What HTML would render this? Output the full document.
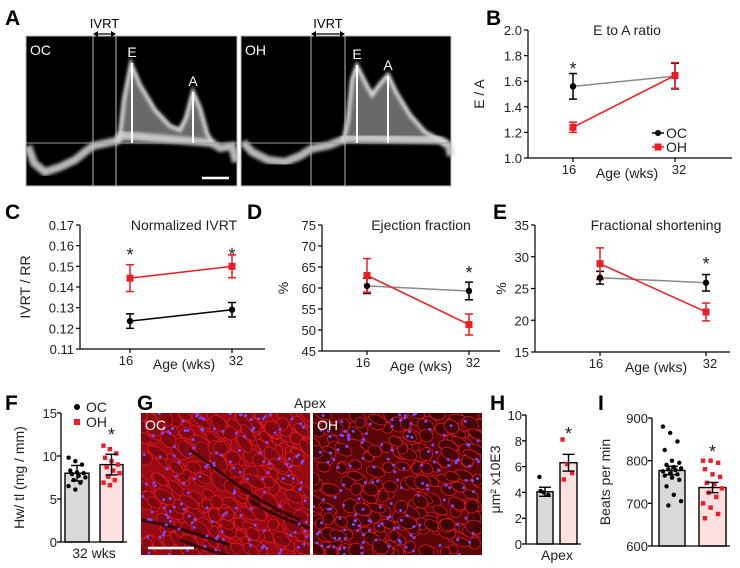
<!DOCTYPE html>
<html><head><meta charset="utf-8"><style>
html,body{margin:0;padding:0;background:#fff;}
svg{display:block;font-family:"Liberation Sans",sans-serif;}
</style></head><body>
<svg id="fig" width="740" height="568" viewBox="0 0 740 568" xmlns="http://www.w3.org/2000/svg">
<defs>
<filter id="blur1" x="-10%" y="-10%" width="120%" height="120%"><feGaussianBlur stdDeviation="1.6"/></filter>
</defs>
<g id="panelA"></g>
<g id="charts"></g>
</svg>
<script>
// ---------- data ----------
const bCats=[16,32];
const bOcMean=[1.56,1.64], bOcErr=[0.1,0.1];
const bOhMean=[1.24,1.645], bOhErr=[0.04,0.1];
const bTicks=[1.0,1.2,1.4,1.6,1.8,2.0];
const cOcMean=[0.1235,0.129], cOcErr=[0.0035,0.0035];
const cOhMean=[0.1443,0.150], cOhErr=[0.0065,0.0055];
const cTicks=[0.11,0.12,0.13,0.14,0.15,0.16,0.17];
const dOcMean=[60.5,59.3], dOcErr=[1.8,2.1];
const dOhMean=[63.0,51.3], dOhErr=[4.0,2.5];
const dTicks=[45,50,55,60,65,70,75];
const eOcMean=[26.7,25.9], eOcErr=[1.0,1.3];
const eOhMean=[28.9,21.3], eOhErr=[2.5,1.4];
const eTicks=[15,20,25,30,35];
const fTicks=[0,5,10,15];
const fMeans=[8.0,9.0], fErrs=[0.9,1.2];
const fOcPts=[9.8,9.4,9.0,8.3,8.1,8.0,7.9,7.7,7.5,7.2,6.9,6.5,6.1];
const fOhPts=[11.2,10.8,10.3,9.8,9.4,9.0,8.7,8.3,8.0,7.6,7.2,6.9,6.6];
const hTicks=[0,2,4,6,8,10];
const hMeans=[4.05,6.3], hErrs=[0.35,0.65];
const hOcPts=[5.2,4.0,3.8,4.1];
const hOhPts=[8.1,6.2,5.5,5.0];
const iTicks=[600,700,800,900];
const iMeans=[777,737], iErrs=[10,12];
const iOcPts=[880,865,845,825,800,795,790,785,782,780,778,775,770,768,765,760,755,740,720,705,695];
const iOhPts=[800,800,795,780,768,762,748,745,735,725,715,700,690,675,665];

const NS="http://www.w3.org/2000/svg";
const svg=document.getElementById('fig');
const RED="#ee1c25";
function el(tag,attrs,parent,txt){const e=document.createElementNS(NS,tag);for(const k in attrs)e.setAttribute(k,attrs[k]);if(txt!==undefined)e.textContent=txt;(parent||svg).appendChild(e);return e;}

const letters=[["A",5,25],["B",486,25],["C",5,219],["D",247,219],["E",493,219],["F",5,410],["G",137,410],["H",490,410],["I",598,410]];
for(const [t,x,y] of letters){const e=el('text',{x:x,y:y,'font-size':21,'font-weight':'bold',fill:'#000'},svg,t);

}

// ---------- Panel A ----------
const pa=document.getElementById('panelA');
function doppler(x0,x1,l1,l2,ex,ey,ax,ay,trace,bottomPts,label,ivx1,ivx2){
  const g=el('g',{},pa);
  
  
  el('rect',{x:x0,y:36,width:x1-x0,height:150,fill:'#000'},g);
  el('path',{d:'M'+trace.map(p=>p.join(',')).join(' L')+' Z',fill:'#8d8d8d',opacity:0.75,filter:'url(#blur1)'},g);
  el('path',{d:'M'+trace.map(p=>p.join(',')).join(' L'),fill:'none',stroke:'#f2f2f2','stroke-width':4,opacity:0.9,filter:'url(#blur1)'},g);
  el('path',{d:'M'+bottomPts.map(p=>p.join(',')).join(' L'),fill:'none',stroke:'#d8d8d8','stroke-width':8,opacity:0.85,filter:'url(#blur1)'},g);
  el('line',{x1:x0,y1:143,x2:x1,y2:143,stroke:'#9a9a9a','stroke-width':1},g);
  el('line',{x1:l1,y1:36,x2:l1,y2:186,stroke:'#bdbdbd','stroke-width':1},g);
  el('line',{x1:l2,y1:36,x2:l2,y2:186,stroke:'#bdbdbd','stroke-width':1},g);
  el('rect',{x:x0,y:36,width:x1-x0,height:150,fill:'none',stroke:'#bbb','stroke-width':1},g);
  el('line',{x1:ex,y1:ey,x2:ex,y2:143,stroke:'#fff','stroke-width':2},g);
  el('line',{x1:ax,y1:ay,x2:ax,y2:143,stroke:'#fff','stroke-width':2},g);
  el('text',{x:ex,y:ey-6,'text-anchor':'middle','font-size':14,fill:'#fff'},g,'E');
  el('text',{x:ax,y:ay-6,'text-anchor':'middle','font-size':14,fill:'#fff'},g,'A');
  el('text',{x:x0+4,y:55,'font-size':14,fill:'#fff'},g,label);
  el('text',{x:(ivx1+ivx2)/2,y:28,'text-anchor':'middle','font-size':13,fill:'#000'},g,'IVRT');
  el('line',{x1:ivx1+2,y1:34,x2:ivx2-2,y2:34,stroke:'#000','stroke-width':1.2},g);
  el('path',{d:`M${ivx1},34 l5,-3 v6 Z M${ivx2},34 l-5,-3 v6 Z`,fill:'#000'},g);
}
doppler(26,237,93,116,132,63,193,92,
  [[116,143],[120,135],[124,100],[131,64],[140,85],[155,110],[170,126],[180,130],[186,118],[193,92],[200,108],[207,133],[212,143]],
  [[28,146],[34,163],[45,172],[60,167],[75,160],[86,151],[93,146],[116,141],[122,135],[212,143],[220,148],[232,146],[236,162]],'OC',93,116);
el('line',{x1:202,y1:178,x2:229,y2:178,stroke:'#fff','stroke-width':2.5},pa);
doppler(241,451,311,345,357,65,388,76,
  [[343,143],[348,120],[352,80],[357,66],[365,82],[372,95],[380,84],[388,75],[396,92],[410,115],[425,132],[440,140],[448,143]],
  [[243,142],[252,152],[268,160],[285,162],[300,156],[311,149],[330,145],[342,140],[345,138],[440,140],[449,146],[451,156]],'OH',311,345);

// ---------- line charts ----------
function lineChart(name,ax,xEnd,yTop,yBot,ticks,dec,x16,x32,ocM,ocE,ohM,ohE,ocLine,title,ylab,ylabX,stars,legend){
  const g=el('g',{},svg);
  
  
  const vmin=ticks[0],vmax=ticks[ticks.length-1];
  const Y=v=>yBot-(v-vmin)/(vmax-vmin)*(yBot-yTop);
  const X=i=>i===0?x16:x32;
  el('line',{x1:ax,y1:yTop,x2:ax,y2:yBot,stroke:'#000','stroke-width':1.2},g);
  el('line',{x1:ax,y1:yBot,x2:xEnd,y2:yBot,stroke:'#000','stroke-width':1.2},g);
  for(const t of ticks){
    el('line',{x1:ax-4,y1:Y(t),x2:ax,y2:Y(t),stroke:'#000','stroke-width':1.2},g);
    const tl=el('text',{x:ax-6,y:Y(t)+5,'text-anchor':'end','font-size':13,fill:'#222'},g,t.toFixed(dec));
    
    
  }
  for(let i=0;i<bCats.length;i++){
    el('line',{x1:X(i),y1:yBot,x2:X(i),y2:yBot+4,stroke:'#000','stroke-width':1.2},g);
    const xl=el('text',{x:X(i)-(i===0?4:-4),y:yBot+16,'text-anchor':'middle','font-size':13,fill:'#222'},g,String(bCats[i]));
    
    
  }
  const xt=el('text',{x:(x16+x32)/2+3,y:yBot+20,'text-anchor':'middle','font-size':14,fill:'#222'},g,'Age (wks)');
  
  
  const tt=el('text',{x:(x16+x32)/2+3,y:yTop+5,'text-anchor':'middle','font-size':14,fill:'#222'},g,title);
  
  
  const yt=el('text',{x:ylabX,y:(yTop+yBot)/2,'text-anchor':'middle','font-size':14,fill:'#222',transform:`rotate(-90 ${ylabX} ${(yTop+yBot)/2})`},g,ylab);
  
  
  const ol=el('line',{x1:X(0),y1:Y(ocM[0]),x2:X(1),y2:Y(ocM[1]),stroke:ocLine,'stroke-width':1.5},g);
  
  const rl=el('line',{x1:X(0),y1:Y(ohM[0]),x2:X(1),y2:Y(ohM[1]),stroke:RED,'stroke-width':1.5},g);
  
  for(let i=0;i<2;i++){
    for(const [m,e,c] of [[ocM,ocE,'#000'],[ohM,ohE,RED]]){
      el('line',{x1:X(i),y1:Y(m[i]-e[i]),x2:X(i),y2:Y(m[i]+e[i]),stroke:c,'stroke-width':1.5},g);
      el('line',{x1:X(i)-4,y1:Y(m[i]-e[i]),x2:X(i)+4,y2:Y(m[i]-e[i]),stroke:c,'stroke-width':1.5},g);
      el('line',{x1:X(i)-4,y1:Y(m[i]+e[i]),x2:X(i)+4,y2:Y(m[i]+e[i]),stroke:c,'stroke-width':1.5},g);
    }
    const p=el('circle',{cx:X(i),cy:Y(ocM[i]),r:3.2,fill:'#000'},g);
    
    
    const q=el('rect',{x:X(i)-3.5,y:Y(ohM[i])-3.5,width:7,height:7,fill:RED},g);
    
    
  }
  for(const [i,yy] of stars){const s=el('text',{x:X(i),y:yy,'text-anchor':'middle','font-size':18,fill:'#222'},g,'*');
    }
  if(legend){
    const [lx,ly]=legend;
    el('line',{x1:lx,y1:ly,x2:lx+12,y2:ly,stroke:'#000','stroke-width':1.5},g);
    el('circle',{cx:lx+6,cy:ly,r:3,fill:'#000'},g);
    el('text',{x:lx+14,y:ly+5,'font-size':14,fill:'#222'},g,'OC');
    el('line',{x1:lx,y1:ly+14,x2:lx+12,y2:ly+14,stroke:RED,'stroke-width':1.5},g);
    el('rect',{x:lx+2.5,y:ly+10.5,width:7,height:7,fill:RED},g);
    el('text',{x:lx+14,y:ly+19,'font-size':14,fill:'#222'},g,'OH');
  }
}
lineChart('chart-e-to-a',528,732,30,158,bTicks,1,573,675,bOcMean,bOcErr,bOhMean,bOhErr,'#8a8a8a','E to A ratio','E / A',484,[[0,75]],[652,133]);
lineChart('chart-ivrt',80,265,225,349,cTicks,2,130,232,cOcMean,cOcErr,cOhMean,cOhErr,'#000','Normalized IVRT','IVRT  / RR',30,[[0,261],[1,261]],null);
lineChart('chart-ejection',322,500,225,351,dTicks,0,367,469,dOcMean,dOcErr,dOhMean,dOhErr,'#8a8a8a','Ejection fraction','%',288,[[1,279]],null);
lineChart('chart-fs',535,730,225,352,eTicks,0,600,706,eOcMean,eOcErr,eOhMean,eOhErr,'#8a8a8a','Fractional shortening','%',506,[[1,270]],null);

// ---------- bar charts ----------
function barChart(name,ax,yTop,yBot,ticks,bars,means,errs,ocPts,ohPts,ylab,ylabX,starY,xlab,legend){
  const g=el('g',{},svg);
  
  
  const vmin=ticks[0],vmax=ticks[ticks.length-1];
  const Y=v=>yBot-(v-vmin)/(vmax-vmin)*(yBot-yTop);
  const fills=['#d9d9d9','#fde0e0'];
  for(let i=0;i<2;i++){
    const [bx,bw]=bars[i];
    const r=el('rect',{x:bx,y:Y(means[i]),width:bw,height:yBot-Y(means[i]),fill:fills[i],stroke:'#000','stroke-width':1.4},g);
    
    
  }
  for(let i=0;i<2;i++){
    const pts=i===0?ocPts:ohPts; const [bx,bw]=bars[i]; const cx=bx+bw/2;
    pts.forEach((v,k)=>{
      const off=((k*37)%11-5)/5*(bw*0.35);
      if(i===0){const c=el('circle',{cx:cx+off,cy:Y(v),r:2.2,fill:'#000'},g);}
      else{const s=el('rect',{x:cx+off-2.2,y:Y(v)-2.2,width:4.4,height:4.4,fill:RED},g);}
    });
    el('line',{x1:cx,y1:Y(means[i]-errs[i]),x2:cx,y2:Y(means[i]+errs[i]),stroke:'#000','stroke-width':1.4},g);
    el('line',{x1:cx-6,y1:Y(means[i]+errs[i]),x2:cx+6,y2:Y(means[i]+errs[i]),stroke:'#000','stroke-width':1.4},g);
    el('line',{x1:cx-6,y1:Y(means[i]-errs[i]),x2:cx+6,y2:Y(means[i]-errs[i]),stroke:'#000','stroke-width':1.4},g);
  }
  el('line',{x1:ax,y1:yTop,x2:ax,y2:yBot,stroke:'#000','stroke-width':1.3},g);
  el('line',{x1:ax,y1:yBot,x2:bars[1][0]+bars[1][1]+4,y2:yBot,stroke:'#000','stroke-width':1.3},g);
  for(const t of ticks){
    el('line',{x1:ax-4,y1:Y(t),x2:ax,y2:Y(t),stroke:'#000','stroke-width':1.3},g);
    const tl=el('text',{x:ax-4,y:Y(t)+5,'text-anchor':'end','font-size':13,fill:'#222'},g,String(t));
    
  }
  const sx=bars[1][0]+bars[1][1]/2;
  el('text',{x:sx,y:starY,'text-anchor':'middle','font-size':18,fill:'#222'},g,'*');
  const yt=el('text',{x:ylabX,y:(yTop+yBot)/2,'text-anchor':'middle','font-size':14,fill:'#222',transform:`rotate(-90 ${ylabX} ${(yTop+yBot)/2})`},g,ylab);
  
  if(xlab){const xt=el('text',{x:(bars[0][0]+bars[1][0]+bars[1][1])/2,y:yBot+16,'text-anchor':'middle','font-size':14,fill:'#222'},g,xlab);}
  if(legend){
    const [lx,ly]=legend;
    el('circle',{cx:lx,cy:ly,r:3,fill:'#000'},g);
    el('text',{x:lx+9,y:ly+5,'font-size':14,fill:'#222'},g,'OC');
    el('rect',{x:lx-3,y:ly+12,width:6,height:6,fill:RED},g);
    el('text',{x:lx+9,y:ly+20,'font-size':14,fill:'#222'},g,'OH');
  }
}
barChart('chart-hw-tl',61,413,542,fTicks,[[65,24],[100,23]],fMeans,fErrs,fOcPts,fOhPts,'Hw/ tl (mg / mm)',24,441,'32 wks',[77,407]);
barChart('chart-cell-area',526,415,544,hTicks,[[537,16],[560,17]],hMeans,hErrs,hOcPts,hOhPts,'μm² x10E3',500,440,'Apex',null);
barChart('chart-heart-rate',652,418,546,iTicks,[[659,26],[699,27]],iMeans,iErrs,iOcPts,iOhPts,'Beats per min',610,458,null,null);

// ---------- Panel G histology ----------
(function(){
  const g=el('g',{},svg);
  
  
  el('text',{x:310,y:408,'text-anchor':'middle','font-size':14,fill:'#222'},g,'Apex');
  let s=12345;const rnd=()=>{s=(s*1103515245+12345)%2147483648;return s/2147483648;};
  function tile(x0,x1,rot,elong,lab,bg,cellFill,n,streaks){
    const cp='cp'+lab;
    const c=el('clipPath',{id:cp},svg);el('rect',{x:x0,y:413,width:x1-x0,height:142},c);
    const t=el('g',{'clip-path':`url(#${cp})`},g);
    
    
    el('rect',{x:x0,y:413,width:x1-x0,height:142,fill:bg},t);
    for(let k=0;k<n;k++){
      const cx=x0+rnd()*(x1-x0),cy=413+rnd()*142;
      el('ellipse',{cx:cx,cy:cy,rx:5+rnd()*4*elong,ry:4+rnd()*3,fill:cellFill,stroke:'#f01a22','stroke-width':0.9,opacity:0.8,transform:`rotate(${rot+rnd()*30-15} ${cx} ${cy})`},t);
    }
    if(streaks){
      for(const d of ["M141,520 C170,525 200,535 230,545","M190,450 C220,470 250,500 300,520","M250,500 C270,515 290,520 310,528","M180,540 C200,548 215,552 230,556"]){
        el('path',{d:d,fill:'none',stroke:'#1a0002','stroke-width':3,opacity:0.8},t);
      }
    }
    for(let k=0;k<150;k++){
      el('circle',{cx:x0+rnd()*(x1-x0),cy:413+rnd()*142,r:1.5,fill:'#7a4cff'},t);
    }
    el('text',{x:x0+4,y:430,'font-size':14,fill:'#fff'},t,lab);
  }
  tile(141,310,40,1.6,'OC','#9a0a12','#7a0810',300,true);
  tile(313,482,25,1.2,'OH','#5a0508','#3e0306',220,false);
  el('line',{x1:148,y1:548,x2:194,y2:548,stroke:'#fff','stroke-width':2.5},g);
})();
</script>
</body></html>
